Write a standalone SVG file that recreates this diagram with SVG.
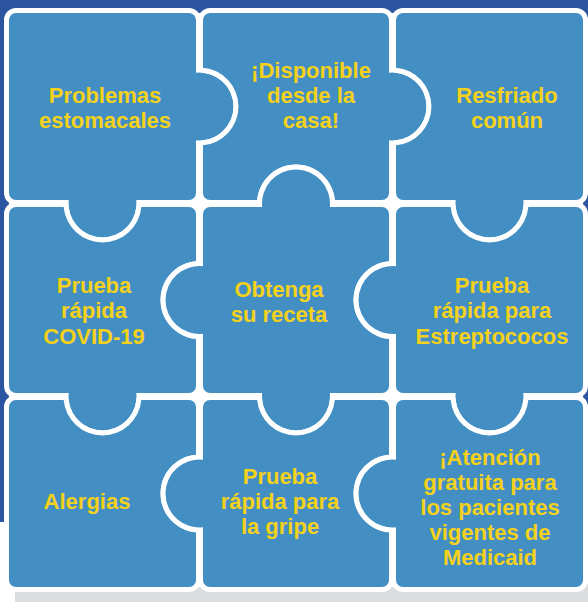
<svg xmlns="http://www.w3.org/2000/svg" width="588" height="602" viewBox="0 0 588 602">
  <style>
    .piece { fill: #438FC4; stroke: #FFFFFF; stroke-width: 10; paint-order: stroke; stroke-linejoin: round; }
    .t { font-family: "Liberation Sans", Arial, sans-serif; font-weight: 700; font-size: 22px; fill: #F4D11A; text-anchor: middle; }
  </style>
  <rect x="0" y="0" width="588" height="602" fill="#FFFFFF"/>
  <rect x="0" y="0" width="588" height="522" fill="#2B54A1"/>
  <rect x="15" y="584" width="590" height="30" rx="9" fill="#DCDDDF"/>
  <rect x="9" y="13" width="574" height="574" fill="#FFFFFF"/>

  <g id="p1">
    <path class="piece" d="M 16 13 H 189 A 7 7 0 0 1 196 20 V 72.68 A 34 34 0 1 1 196 140.32 V 193 A 7 7 0 0 1 189 200 H 136.32 A 34 34 0 1 1 68.68 200 H 16 A 7 7 0 0 1 9 193 V 20 A 7 7 0 0 1 16 13 Z"/>
    <text class="t" x="105" y="103">Problemas</text>
    <text class="t" x="105" y="128">estomacales</text>
  </g>
  <g id="p2">
    <path class="piece" d="M 210 13 H 382 A 7 7 0 0 1 389 20 V 72.68 A 34 34 0 1 1 389 140.32 V 193 A 7 7 0 0 1 382 200 H 334.84 A 39 39 0 0 0 257.16 200 H 210 A 7 7 0 0 1 203 193 V 145.34 A 39 39 0 0 0 203 67.66 V 20 A 7 7 0 0 1 210 13 Z"/>
    <text class="t" x="311" y="78">¡Disponible</text>
    <text class="t" x="311" y="103">desde la</text>
    <text class="t" x="311" y="128">casa!</text>
  </g>
  <g id="p3">
    <path class="piece" d="M 403 13 H 576 A 7 7 0 0 1 583 20 V 193 A 7 7 0 0 1 576 200 H 523.32 A 34 34 0 1 1 455.68 200 H 403 A 7 7 0 0 1 396 193 V 145.34 A 39 39 0 0 0 396 67.66 V 20 A 7 7 0 0 1 403 13 Z"/>
    <text class="t" x="507" y="103">Resfriado</text>
    <text class="t" x="507" y="128">común</text>
  </g>
  <g id="p4">
    <path class="piece" d="M 16 207 H 63.66 A 39 39 0 0 0 141.34 207 H 189 A 7 7 0 0 1 196 214 V 261.16 A 39 39 0 0 0 196 338.84 V 386 A 7 7 0 0 1 189 393 H 136.32 A 34 34 0 1 1 68.68 393 H 16 A 7 7 0 0 1 9 386 V 214 A 7 7 0 0 1 16 207 Z"/>
    <text class="t" x="94" y="293">Prueba</text>
    <text class="t" x="94" y="318">rápida</text>
    <text class="t" x="94" y="344">COVID-19</text>
  </g>
  <g id="p5">
    <path class="piece" d="M 210 207 H 262.18 A 34 34 0 1 1 329.82 207 H 382 A 7 7 0 0 1 389 214 V 261.16 A 39 39 0 0 0 389 338.84 V 386 A 7 7 0 0 1 382 393 H 329.82 A 34 34 0 1 1 262.18 393 H 210 A 7 7 0 0 1 203 386 V 333.82 A 34 34 0 1 1 203 266.18 V 214 A 7 7 0 0 1 210 207 Z"/>
    <text class="t" x="279" y="297">Obtenga</text>
    <text class="t" x="279" y="322">su receta</text>
  </g>
  <g id="p6">
    <path class="piece" d="M 403 207 H 450.66 A 39 39 0 0 0 528.34 207 H 576 A 7 7 0 0 1 583 214 V 386 A 7 7 0 0 1 576 393 H 523.32 A 34 34 0 1 1 455.68 393 H 403 A 7 7 0 0 1 396 386 V 333.82 A 34 34 0 1 1 396 266.18 V 214 A 7 7 0 0 1 403 207 Z"/>
    <text class="t" x="492" y="293">Prueba</text>
    <text class="t" x="492" y="318">rápida para</text>
    <text class="t" x="492" y="344">Estreptococos</text>
  </g>
  <g id="p7">
    <path class="piece" d="M 16 400 H 63.66 A 39 39 0 0 0 141.34 400 H 189 A 7 7 0 0 1 196 407 V 454.66 A 39 39 0 0 0 196 532.34 V 580 A 7 7 0 0 1 189 587 H 16 A 7 7 0 0 1 9 580 V 407 A 7 7 0 0 1 16 400 Z"/>
    <text class="t" x="87" y="509">Alergias</text>
  </g>
  <g id="p8">
    <path class="piece" d="M 210 400 H 257.16 A 39 39 0 0 0 334.84 400 H 382 A 7 7 0 0 1 389 407 V 454.66 A 39 39 0 0 0 389 532.34 V 580 A 7 7 0 0 1 382 587 H 210 A 7 7 0 0 1 203 580 V 527.32 A 34 34 0 1 1 203 459.68 V 407 A 7 7 0 0 1 210 400 Z"/>
    <text class="t" x="280" y="484">Prueba</text>
    <text class="t" x="280" y="509">rápida para</text>
    <text class="t" x="280" y="534">la gripe</text>
  </g>
  <g id="p9">
    <path class="piece" d="M 403 400 H 450.66 A 39 39 0 0 0 528.34 400 H 576 A 7 7 0 0 1 583 407 V 580 A 7 7 0 0 1 576 587 H 403 A 7 7 0 0 1 396 580 V 527.32 A 34 34 0 1 1 396 459.68 V 407 A 7 7 0 0 1 403 400 Z"/>
    <text class="t" x="490" y="465">¡Atención</text>
    <text class="t" x="490" y="490">gratuita para</text>
    <text class="t" x="490" y="515">los pacientes</text>
    <text class="t" x="490" y="540">vigentes de</text>
    <text class="t" x="490" y="565">Medicaid</text>
  </g>
  <g id="connectors"></g>
</svg>
